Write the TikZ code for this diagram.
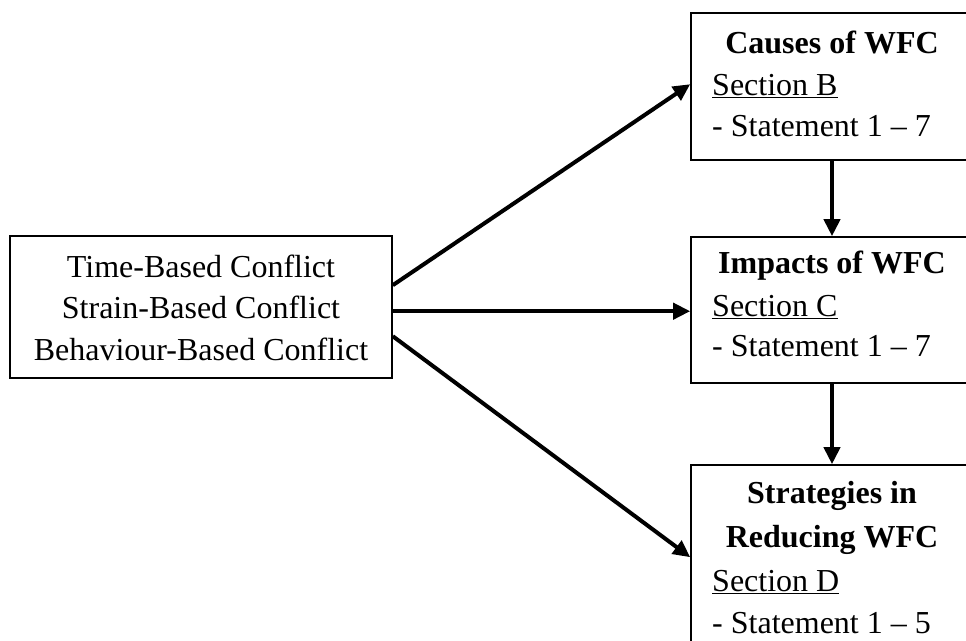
\documentclass[tikz,border=0pt]{standalone}
\usepackage{fontspec}
\setmainfont{Liberation Serif}
\usetikzlibrary{arrows.meta,calc}
\tikzset{
  box/.style={draw=black, line width=1.6pt, rectangle, inner sep=0pt},
  conn/.style={line width=4pt, -{Triangle[length=17pt,width=16pt]}},
  txt/.style={inner sep=0pt, anchor=base, font=\fontsize{32}{38}\selectfont},
  ltxt/.style={txt, anchor=base west},
  btxt/.style={txt, font=\fontsize{32}{38}\selectfont\bfseries}
}
\begin{document}
\begin{tikzpicture}[x=1pt,y=-1pt]
\useasboundingbox (0,0) rectangle (966,640);
\begin{scope}
\clip (0,0) rectangle (966,640);
% boxes
\node[box, minimum width=382pt, minimum height=142pt] (L) at (201,307) {};
\node[box, minimum width=282pt, minimum height=147pt] (T) at (832,86.5) {};
\node[box, minimum width=282pt, minimum height=146pt] (M) at (832,310) {};
\node[box, minimum width=282pt, minimum height=195pt] (B) at (832,562.5) {};
\end{scope}
% left text
\node[txt] (l1) at (201,277) {Time-Based Conflict};
\node[txt] (l2) at (201,318.5) {Strain-Based Conflict};
\node[txt] (l3) at (201,360) {Behaviour-Based Conflict};
% top box text
\node[btxt] (t1) at (832,53) {Causes of WFC};
\node[ltxt] (t2) at (712,95) {\underline{Section B}};
\node[ltxt] (t3) at (712,136) {- Statement 1 -- 7};
% middle box text
\node[btxt] (m1) at (832,273) {Impacts of WFC};
\node[ltxt] (m2) at (712,316) {\underline{Section C}};
\node[ltxt] (m3) at (712,356) {- Statement 1 -- 7};
% bottom box text
\node[btxt] (b1) at (832,503) {Strategies in};
\node[btxt] (b2) at (832,547) {Reducing WFC};
\node[ltxt] (b3) at (712,591) {\underline{Section D}};
\node[ltxt] (b4) at (712,633) {- Statement 1 -- 5};
% connectors
\draw[conn] ($(L.north east)+(0,50)$) -- ($(T.north west)+(0,72)$);
\draw[conn] ($(L.north east)+(0,76)$) -- ($(M.north west)+(0,75)$);
\draw[conn] ($(L.north east)+(0,101)$) -- ($(B.north west)+(0,93)$);
\draw[conn] (T.south) -- (M.north);
\draw[conn] (M.south) -- (B.north);
\end{tikzpicture}
\end{document}
